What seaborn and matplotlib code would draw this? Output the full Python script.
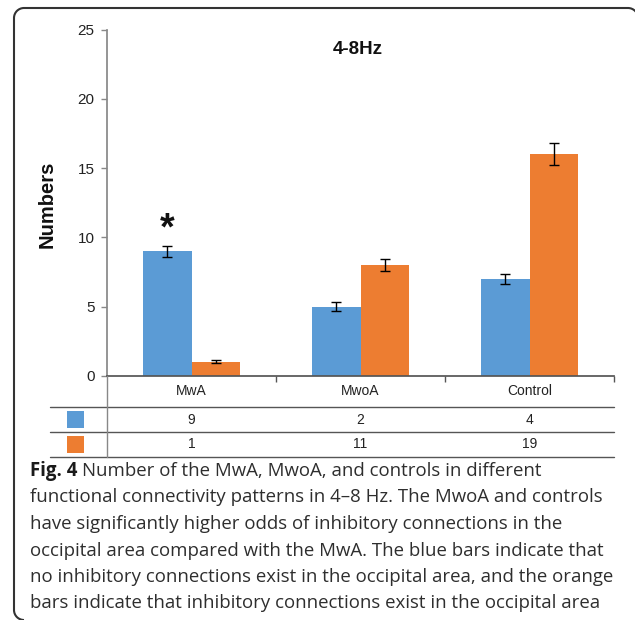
import matplotlib
matplotlib.use("Agg")
import pandas as pd
import matplotlib.pyplot as plt
import seaborn as sns
from matplotlib import transforms
from matplotlib.lines import Line2D
from matplotlib.patches import Rectangle, Arc

# data
groups = ["MwA", "MwoA", "Control"]
series = ["No inhibitory", "Inhibitory"]
blue_bars = [9, 5, 7]
orange_bars = [1, 8, 16]
blue_err = [0.4, 0.3, 0.35]
orange_err = [0.1, 0.4, 0.8]
blue_counts = [9, 2, 4]
orange_counts = [1, 11, 19]
colors = ["#5B9BD5", "#ED7D31"]

caption_lines = [
    "Number of the MwA, MwoA, and controls in different",
    "functional connectivity patterns in 4\u20138 Hz. The MwoA and controls",
    "have significantly higher odds of inhibitory connections in the",
    "occipital area compared with the MwA. The blue bars indicate that",
    "no inhibitory connections exist in the occipital area, and the orange",
    "bars indicate that inhibitory connections exist in the occipital area",
]

W, H = 635, 620


def fx(px):
    return px / W


def fy(py):
    return 1 - py / H


sns.set_theme(style="white")
plt.rcParams["font.family"] = ["Liberation Sans", "DejaVu Sans"]

fig = plt.figure(figsize=(W / 100, H / 100), dpi=100)
ax = fig.add_axes([fx(107), fy(375.7), fx(614) - fx(107), fy(29.7) - fy(375.7)])

df = pd.DataFrame({
    "group": groups * 2,
    "value": blue_bars + orange_bars,
    "series": [series[0]] * 3 + [series[1]] * 3,
})
sns.barplot(data=df, x="group", y="value", hue="series", palette=colors,
            width=0.57, errorbar=None, legend=False, saturation=1,
            linewidth=0, ax=ax)

# error bars on top of each bar
for cont, errs in zip(ax.containers, [blue_err, orange_err]):
    for bar, e in zip(cont, errs):
        cx = bar.get_x() + bar.get_width() / 2
        ax.errorbar(cx, bar.get_height(), yerr=e, color="black",
                    capsize=3.5, elinewidth=1, capthick=1)

# significance star over MwA blue bar
b0 = ax.containers[0][0]
ax.text(b0.get_x() + b0.get_width() / 2, 10.6, "*", ha="center", va="center",
        fontsize=27, fontweight="bold", color="#111")

ax.set_xlim(-0.5, 2.5)
ax.set_ylim(0, 25)
ax.set_yticks([0, 5, 10, 15, 20, 25])
ax.set_xticks([0.5, 1.5, 2.5])
ax.set_xticklabels([])
ax.set_xlabel("")
ax.set_ylabel("")
ax.tick_params(axis="y", left=True, length=4, width=1, color="#888",
               labelsize=11, labelcolor="#222", pad=5)
ax.tick_params(axis="x", bottom=True, length=4, width=1, color="#555")
for s in ["top", "right"]:
    ax.spines[s].set_visible(False)
ax.spines["left"].set_color("#888")
ax.spines["bottom"].set_color("#555")

fig.text(fx(47), fy(204), "Numbers", rotation=90, ha="center", va="center",
         fontsize=14.5, fontweight="bold", color="#111")
fig.text(fx(358), fy(50), "4-8Hz", ha="center", va="center",
         fontsize=13.5, fontweight="bold", color="#111")

# data table under the axis
tr = transforms.blended_transform_factory(ax.transData, fig.transFigure)
for i, g in enumerate(groups):
    fig.text(i, fy(391), g, transform=tr, ha="center", va="center",
             fontsize=10, color="#222")
    fig.text(i, fy(419.5), str(blue_counts[i]), transform=tr, ha="center",
             va="center", fontsize=10, color="#222")
    fig.text(i, fy(444.5), str(orange_counts[i]), transform=tr, ha="center",
             va="center", fontsize=10, color="#222")
for py in [407, 432, 457]:
    fig.add_artist(Line2D([fx(50), fx(614)], [fy(py), fy(py)], color="#555",
                          lw=1))
fig.add_artist(Line2D([fx(107), fx(107)], [fy(375.7), fy(457)], color="#888",
                      lw=1))
for py, c in zip([411, 436], colors):
    fig.add_artist(Rectangle((fx(67), fy(py + 17)), fx(17), 17 / H,
                             transform=fig.transFigure, color=c, lw=0))

# caption
cap_font = ["Open Sans", "DejaVu Sans"]
cap_size = 13.4
cap_color = "#2e2e2e"
baselines = [476, 502.5, 529, 555.5, 582, 608.5]
r = fig.canvas.get_renderer()
t = fig.text(fx(30), fy(baselines[0]), "Fig. 4", fontsize=cap_size,
             fontweight="bold", family=cap_font, color="#1a1a1a",
             va="baseline")
bb = t.get_window_extent(renderer=r)
fig.text(bb.x1 / (fig.dpi * fig.get_figwidth()) + fx(5), fy(baselines[0]),
         caption_lines[0], fontsize=cap_size, family=cap_font, color=cap_color,
         va="baseline")
for line, b in zip(caption_lines[1:], baselines[1:]):
    fig.text(fx(30), fy(b), line, fontsize=cap_size, family=cap_font,
             color=cap_color, va="baseline")

# rounded frame: left and top edges, right/bottom run off the picture
rad = 10
frame = dict(color="#333", lw=1.5)
fig.add_artist(Line2D([fx(14), fx(14)], [fy(8 + rad), fy(610)], **frame))
fig.add_artist(Line2D([fx(14 + rad), fx(628)], [fy(8), fy(8)], **frame))
for (cx, cy, a1, a2) in [(14 + rad, 8 + rad, 90, 180),
                         (628, 8 + rad, 0, 90),
                         (14 + rad, 610, 180, 270)]:
    fig.add_artist(Arc((fx(cx), fy(cy)), 2 * rad / W, 2 * rad / H,
                       theta1=a1, theta2=a2, transform=fig.transFigure,
                       **frame))

fig.savefig("out.png", dpi=100)
